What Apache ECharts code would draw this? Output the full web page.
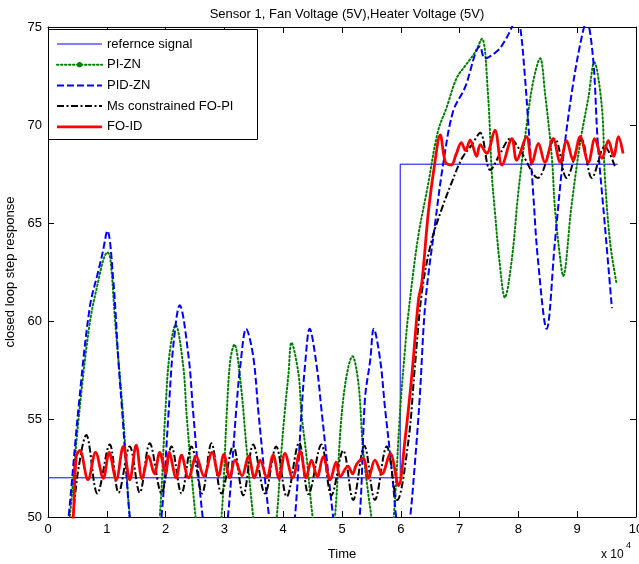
<!DOCTYPE html>
<html>
<head>
<meta charset="utf-8">
<script src="https://cdn.jsdelivr.net/npm/echarts@6/dist/echarts.min.js"></script>
<style>html,body{margin:0;padding:0;background:#fff}#c{width:639px;height:564px}</style>
</head>
<body>
<div id="c"></div>
<script>
var FONT = 'Liberation Sans, Arial, Helvetica, sans-serif';
var titleText = 'Sensor 1, Fan Voltage (5V),Heater Voltage (5V)';
var seriesNames = ['refernce signal', 'PI-ZN', 'PID-ZN', 'Ms constrained FO-PI', 'FO-ID'];
var xTicks = [0, 1, 2, 3, 4, 5, 6, 7, 8, 9, 10];
var yTicks = [50, 55, 60, 65, 70, 75];

// x in units of 10^4
var refSignal = [[0, 52], [5.99, 52], [5.99, 68], [9.69, 68]];

var piZN = [[0.2, 46], [0.37, 50], [0.52, 55], [0.71, 59.9], [0.86, 62.1], [0.95, 63.2], [1.01, 63.5], [1.06, 63.2],
  [1.14, 60.05], [1.28, 55.05], [1.39, 50], [1.5, 47.5], [1.65, 46.8], [1.8, 47.6], [1.9, 50], [2.0, 55.6],
  [2.07, 58.4], [2.17, 59.8], [2.3, 57.7], [2.36, 55.1], [2.51, 50], [2.6, 48], [2.73, 47.5], [2.85, 48.2],
  [2.95, 50], [3.04, 55.3], [3.1, 58.0], [3.17, 58.8], [3.27, 57.0], [3.38, 53.4], [3.49, 50], [3.58, 48],
  [3.69, 47.6], [3.8, 48.2], [3.89, 50], [3.96, 53], [4.03, 55.5], [4.09, 57.3], [4.14, 58.9], [4.26, 57.3],
  [4.31, 55.3], [4.4, 53], [4.5, 50], [4.6, 48], [4.69, 47.6], [4.8, 48.2], [4.88, 50], [5.02, 56], [5.18, 58.2],
  [5.28, 56.8], [5.36, 53.4], [5.5, 50], [5.6, 48], [5.69, 47.6], [5.8, 48.2], [5.88, 50], [5.99, 55.5],
  [6.07, 58.5], [6.12, 60.15], [6.29, 64.2], [6.46, 66.9], [6.63, 69.66], [6.78, 70.9], [6.95, 72.4], [7.09, 73],
  [7.26, 73.7], [7.38, 74.4], [7.48, 71.7], [7.55, 67.4], [7.6, 65.6], [7.68, 63], [7.77, 61.2], [7.89, 63.2],
  [8.0, 66.6], [8.14, 70], [8.25, 72.2], [8.37, 73.4], [8.45, 71.7], [8.57, 68.3], [8.62, 65.8], [8.71, 63.2],
  [8.76, 62.3], [8.9, 65.8], [9.05, 69.1], [9.19, 71.4], [9.29, 73.2], [9.42, 70.9], [9.47, 67.4], [9.56, 64],
  [9.67, 61.9]];

var pidZN = [[0.2, 46], [0.35, 50], [0.52, 55.6], [0.71, 60.7], [0.86, 62.6], [0.93, 63.5], [1.01, 64.6], [1.11, 62.1],
  [1.2, 57.85], [1.27, 55.05], [1.39, 50], [1.52, 47], [1.66, 46.5], [1.8, 47.2], [1.93, 50], [2.05, 55.3],
  [2.13, 58.7], [2.24, 60.8], [2.39, 58.2], [2.47, 55.3], [2.63, 50], [2.75, 47.8], [2.86, 47.5], [2.97, 48.2],
  [3.06, 50], [3.21, 55.8], [3.27, 57.7], [3.37, 59.6], [3.49, 58.2], [3.58, 55.3], [3.76, 50], [3.87, 47.8],
  [3.98, 47.5], [4.1, 48.2], [4.2, 50], [4.31, 55.3], [4.37, 57.7], [4.45, 59.6], [4.57, 57.7], [4.65, 55.5],
  [4.85, 50], [4.96, 47.8], [5.07, 47.5], [5.19, 48.2], [5.3, 50], [5.39, 56], [5.48, 58], [5.54, 59.6],
  [5.65, 58], [5.73, 55.6], [5.84, 52.6], [5.92, 50], [6.0, 48], [6.08, 48.3], [6.16, 50], [6.24, 52.75],
  [6.32, 56], [6.42, 61], [6.58, 64.9], [6.72, 68], [6.89, 70.7], [7.09, 71.9], [7.35, 74], [7.43, 73.4],
  [7.65, 73.8], [7.77, 74.3], [7.89, 75], [7.96, 75.6], [8.03, 75], [8.11, 72.5], [8.17, 70], [8.25, 66.6],
  [8.33, 63.2], [8.48, 59.6], [8.62, 64], [8.76, 68.3], [8.91, 71.7], [9.05, 74.1], [9.16, 75.3], [9.27, 73.4],
  [9.35, 69.1], [9.47, 64.9], [9.59, 60.66]];

var msFOPI = [[0.3, 47], [0.42, 50], [0.52, 52.5], [0.65, 54.18], [0.84, 51.2], [1.05, 53.7], [1.2, 51.24], [1.39, 53.6],
  [1.56, 51.24], [1.73, 53.76], [1.93, 51.2], [2.1, 53.6], [2.27, 51.2], [2.44, 53.6], [2.62, 51.2], [2.78, 53.76],
  [2.95, 51.2], [3.15, 53.64], [3.32, 51.1], [3.49, 53.7], [3.69, 51.2], [3.88, 53.6], [4.06, 51.04], [4.27, 53.8],
  [4.43, 51.17], [4.65, 53.7], [4.82, 51.1], [5.02, 53.4], [5.19, 50.87], [5.38, 53.64], [5.56, 50.87], [5.76, 53.6],
  [5.94, 50.87], [6.13, 53.9], [6.24, 57.7], [6.36, 61.5], [6.52, 64.05], [6.7, 65.75], [6.87, 67.1], [7.04, 68.3],
  [7.21, 69], [7.35, 69.6], [7.52, 67.7], [7.7, 68.6], [7.86, 69.3], [8.05, 68.6], [8.33, 67.3], [8.62, 69.3],
  [8.82, 67.3], [9.07, 69.3], [9.25, 67.3], [9.47, 68.9], [9.64, 67.9]];

var foID = [[0.35, 47], [0.43, 50], [0.48, 53.08], [0.54, 53.4], [0.68, 51.9], [0.81, 53.3], [0.94, 51.97], [1.04, 53.3],
  [1.16, 51.9], [1.28, 53.6], [1.39, 51.9], [1.5, 53.67], [1.6, 51.95], [1.71, 53.1], [1.81, 52.2], [1.9, 53.3],
  [2.0, 52.2], [2.06, 53.3], [2.18, 52.0], [2.27, 53.15], [2.39, 52.0], [2.52, 53.1], [2.65, 52.1], [2.79, 53.3],
  [2.9, 52.1], [2.99, 53.2], [3.09, 52.0], [3.18, 52.9], [3.3, 52.1], [3.41, 53.1], [3.51, 52.0], [3.61, 52.9],
  [3.72, 52.0], [3.83, 53.16], [3.93, 51.95], [4.03, 53.25], [4.16, 52.0], [4.29, 53.35], [4.39, 52.0], [4.48, 52.9],
  [4.58, 52.05], [4.68, 53.08], [4.8, 51.9], [4.9, 52.8], [4.97, 52.06], [5.1, 52.6], [5.18, 52.2], [5.25, 52.7],
  [5.36, 53.0], [5.45, 51.97], [5.56, 52.9], [5.68, 52.2], [5.82, 53.25], [5.96, 51.6], [6.07, 53.9], [6.19, 57.3],
  [6.3, 61.07], [6.36, 62], [6.47, 65.6], [6.58, 68.1], [6.67, 69.5], [6.76, 68.1], [6.86, 67.96], [6.94, 68.5],
  [7.03, 69.1], [7.1, 68.7], [7.18, 69.23], [7.29, 68.4], [7.35, 69.0], [7.46, 68.55], [7.6, 69.74], [7.72, 67.96],
  [7.89, 69.3], [7.97, 68.2], [8.14, 69.4], [8.23, 68.04], [8.34, 69.06], [8.45, 68.1], [8.59, 69.3], [8.71, 68.1],
  [8.82, 69.2], [8.93, 68.2], [9.05, 69.4], [9.19, 68.1], [9.3, 69.3], [9.42, 68.3], [9.53, 69.2], [9.62, 68.4],
  [9.7, 69.4], [9.78, 68.55]];

var colors = ['#0000ff', '#008000', '#0000ff', '#000000', '#ff0000'];
var dashes = ['solid', [1.5, 2.5], [7, 3], [7, 2.5, 2, 2.5], 'solid'];
var widths = [1, 2, 2, 2, 2.8];
var datasets = [refSignal, piZN, pidZN, msFOPI, foID];

var chart = echarts.init(document.getElementById('c'), null, {renderer: 'canvas'});

var gridL = 48, gridT = 27, gridR = 3, gridB = 47;

var series = datasets.map(function (d, i) {
  return {
    name: seriesNames[i],
    type: 'line',
    data: d,
    xAxisIndex: 0, yAxisIndex: 0,
    showSymbol: false,
    symbol: 'none',
    smooth: i === 0 ? false : 0.35,
    clip: true,
    lineStyle: {color: colors[i], width: widths[i], type: dashes[i], cap: i === 1 ? 'round' : 'butt'},
    z: 2 + i
  };
});

// legend drawn as graphic
var legendX = 48, legendY = 29, legendW = 209, legendH = 110;
var rowY = [44, 64.7, 85.4, 106.1, 126.8];
var lg = [{type: 'rect', shape: {x: legendX + 0.5, y: legendY + 0.5, width: legendW, height: legendH},
  style: {fill: '#fff', stroke: '#000', lineWidth: 1}, z: 100}];
seriesNames.forEach(function (n, i) {
  var ls = {stroke: colors[i], lineWidth: widths[i], lineCap: i === 1 ? 'round' : 'butt'};
  if (dashes[i] !== 'solid') ls.lineDash = dashes[i];
  lg.push({type: 'line', shape: {x1: 57, y1: rowY[i], x2: 102, y2: rowY[i]}, style: ls, z: 101});
  if (i === 1) lg.push({type: 'circle', shape: {cx: 79.5, cy: rowY[i], r: 2.6}, style: {fill: colors[1]}, z: 102});
  lg.push({type: 'text', x: 107, y: rowY[i], style: {text: n, font: '13px ' + FONT, fill: '#000', textVerticalAlign: 'middle', verticalAlign: 'middle'}, z: 102});
});
lg.push({type: 'text', x: 601, y: 555, style: {text: 'x 10', font: '12px ' + FONT, fill: '#000', verticalAlign: 'middle'}, z: 102});
lg.push({type: 'text', x: 626, y: 546, style: {text: '4', font: '9px ' + FONT, fill: '#000', verticalAlign: 'middle'}, z: 102});

var axisBase = {
  axisLine: {show: true, onZero: false, lineStyle: {color: '#000', width: 1}},
  axisTick: {show: true, inside: true, length: 6, lineStyle: {color: '#000'}},
  splitLine: {show: false}
};

var option = {
  animation: false,
  backgroundColor: '#fff',
  title: {
    text: titleText, left: 342, top: 3, textAlign: 'center',
    textStyle: {fontFamily: FONT, fontSize: 13, fontWeight: 'normal', color: '#000'}
  },
  grid: {left: gridL, right: gridR, top: gridT, bottom: gridB, containLabel: false, outerBoundsMode: 'none'},
  xAxis: [
    Object.assign({}, axisBase, {
      type: 'value', min: xTicks[0], max: xTicks[xTicks.length - 1], interval: 1, position: 'bottom',
      name: 'Time', nameLocation: 'middle', nameGap: 31,
      nameTextStyle: {fontFamily: FONT, fontSize: 13, color: '#000'},
      axisLabel: {fontFamily: FONT, fontSize: 13, color: '#000', margin: 6}
    }),
    Object.assign({}, axisBase, {
      type: 'value', min: xTicks[0], max: xTicks[xTicks.length - 1], interval: 1, position: 'top',
      axisLabel: {show: false}
    })
  ],
  yAxis: [
    Object.assign({}, axisBase, {
      type: 'value', min: yTicks[0], max: yTicks[yTicks.length - 1], interval: 5, position: 'left',
      name: 'closed loop step response', nameLocation: 'middle', nameGap: 29, nameRotate: 90,
      nameTextStyle: {fontFamily: FONT, fontSize: 13, color: '#000'},
      axisLabel: {fontFamily: FONT, fontSize: 13, color: '#000', margin: 6}
    }),
    Object.assign({}, axisBase, {
      type: 'value', min: yTicks[0], max: yTicks[yTicks.length - 1], interval: 5, position: 'right',
      axisLabel: {show: false}
    })
  ],
  series: series,
  graphic: lg
};
chart.setOption(option);
</script>
</body>
</html>
